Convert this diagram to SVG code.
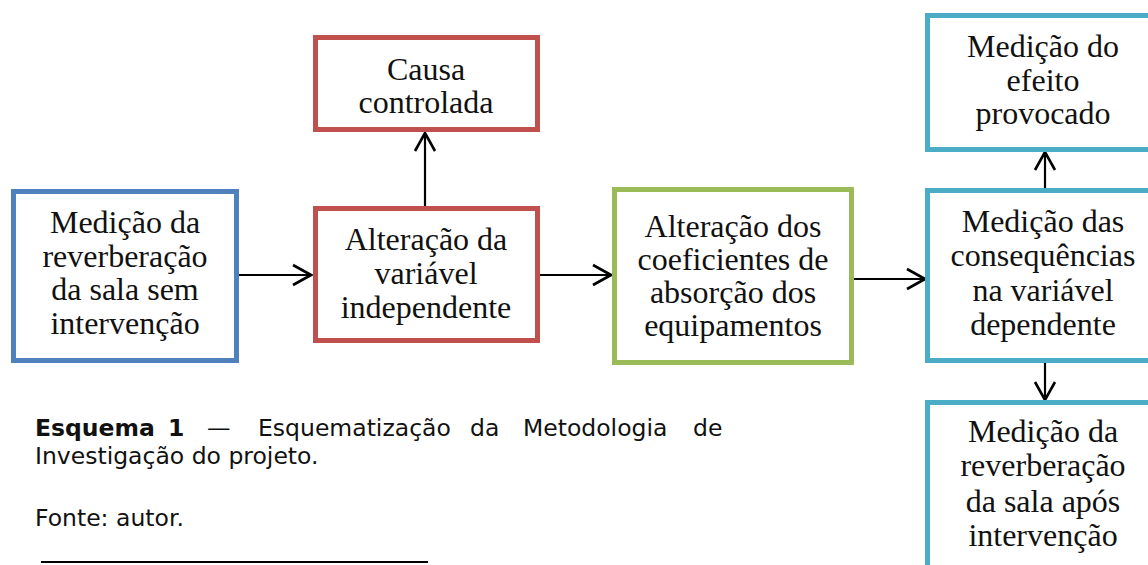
<svg xmlns="http://www.w3.org/2000/svg" width="1148" height="565" viewBox="0 0 1148 565">
<style>
.box{fill:#fff;stroke-width:5}
.b{stroke:#4F81BD}.r{stroke:#C0504D}.g{stroke:#9BBB59}.t{stroke:#4BACC6}
.lbl{font-family:"Liberation Serif","Times New Roman",serif;font-size:32px;fill:#111;text-anchor:middle}
.cap{font-family:"DejaVu Sans",Verdana,sans-serif;font-size:23.5px;fill:#111}
.cn{fill:none;stroke:#000;stroke-width:2.2}
</style>
<defs>
<marker id="arr" markerUnits="userSpaceOnUse" viewBox="-22 -12 24 24" markerWidth="24" markerHeight="24" refX="0" refY="0" orient="auto">
<path d="M-18,-10 L0,0 L-18,10" fill="none" stroke="#000" stroke-width="2.6"/>
</marker>
</defs>
<rect width="1148" height="565" fill="#fff"/>
<g id="connectors">
<line class="cn" x1="239" y1="275" x2="311" y2="275" marker-end="url(#arr)"/>
<line class="cn" x1="425" y1="206" x2="425" y2="133" marker-end="url(#arr)"/>
<line class="cn" x1="538" y1="275" x2="611" y2="275" marker-end="url(#arr)"/>
<line class="cn" x1="852" y1="279" x2="925" y2="279" marker-end="url(#arr)"/>
<line class="cn" x1="1045" y1="188" x2="1045" y2="152" marker-end="url(#arr)"/>
<line class="cn" x1="1045" y1="363" x2="1045" y2="400" marker-end="url(#arr)"/>
</g>
<g id="n1">
<rect class="box b" x="13.5" y="191.5" width="223" height="169"/>
<text class="lbl"><tspan x="125" y="233">Medição da</tspan><tspan x="125" y="267">reverberação</tspan><tspan x="125" y="300">da sala sem</tspan><tspan x="125" y="334">intervenção</tspan></text>
</g>
<g id="n2">
<rect class="box r" x="315.5" y="37.5" width="222" height="92"/>
<text class="lbl"><tspan x="426" y="80">Causa</tspan><tspan x="426" y="113">controlada</tspan></text>
</g>
<g id="n3">
<rect class="box r" x="315.5" y="208.5" width="222" height="132"/>
<text class="lbl"><tspan x="426" y="250">Alteração da</tspan><tspan x="426" y="284">variável</tspan><tspan x="426" y="318">independente</tspan></text>
</g>
<g id="n4">
<rect class="box g" x="614.5" y="189.5" width="237" height="173"/>
<text class="lbl"><tspan x="733" y="237">Alteração dos</tspan><tspan x="733" y="270">coeficientes de</tspan><tspan x="733" y="303">absorção dos</tspan><tspan x="733" y="336">equipamentos</tspan></text>
</g>
<g id="n5">
<rect class="box t" x="927.5" y="15.5" width="240" height="134"/>
<text class="lbl"><tspan x="1043" y="57">Medição do</tspan><tspan x="1043" y="91">efeito</tspan><tspan x="1043" y="124">provocado</tspan></text>
</g>
<g id="n6">
<rect class="box t" x="927.5" y="190.5" width="240" height="170"/>
<text class="lbl"><tspan x="1043" y="232">Medição das</tspan><tspan x="1043" y="266">consequências</tspan><tspan x="1043" y="301">na variável</tspan><tspan x="1043" y="335">dependente</tspan></text>
</g>
<g id="n7">
<rect class="box t" x="927.5" y="402.5" width="240" height="200"/>
<text class="lbl"><tspan x="1043" y="442">Medição da</tspan><tspan x="1043" y="476">reverberação</tspan><tspan x="1043" y="512">da sala após</tspan><tspan x="1043" y="546">intervenção</tspan></text>
</g>
<g id="caption">
<text class="cap" y="436"><tspan x="35" font-weight="bold">Esquema</tspan><tspan x="168" font-weight="bold">1</tspan><tspan x="207">—</tspan><tspan x="258">Esquematização</tspan><tspan x="470">da</tspan><tspan x="523">Metodologia</tspan><tspan x="693">de</tspan></text>
<text class="cap" x="35" y="464">Investigação do projeto.</text>
<text class="cap" x="35" y="526">Fonte: autor.</text>
<line x1="41" y1="562" x2="428" y2="562" stroke="#000" stroke-width="2"/>
</g>
</svg>
